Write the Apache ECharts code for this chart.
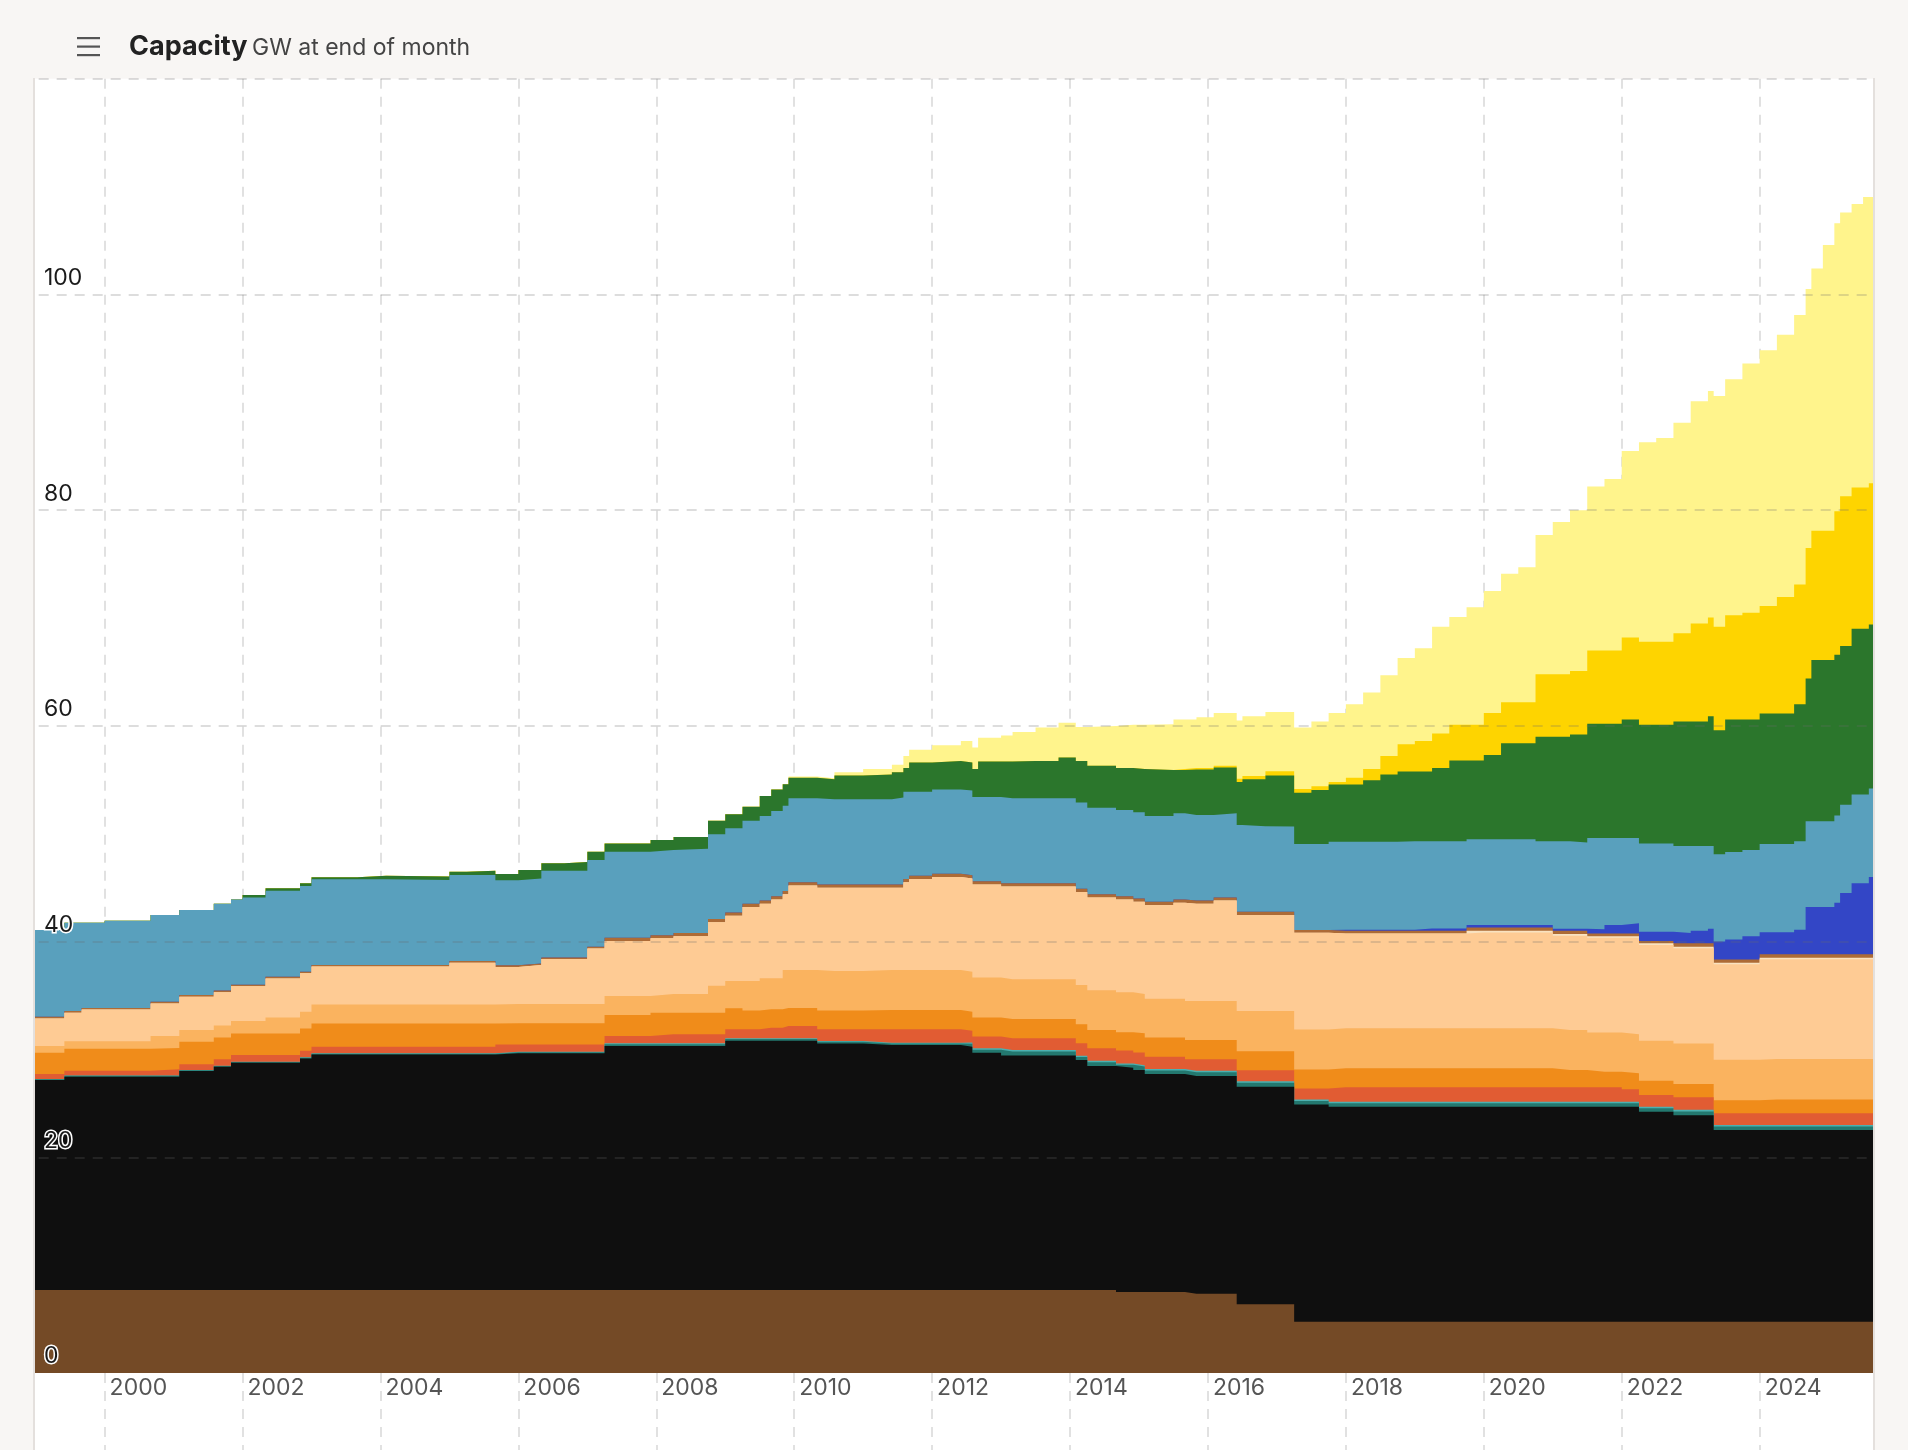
<!DOCTYPE html>
<html>
<head>
<meta charset="utf-8">
<title>Capacity</title>
<script src="https://cdn.jsdelivr.net/npm/echarts@6/dist/echarts.min.js"></script>
<style>
  html, body { margin: 0; padding: 0; background: #f8f6f4; }
  #chart { width: 1908px; height: 1450px; }
</style>
</head>
<body>
<div id="chart"></div>
<script>
// month each value starts from (step chart, GW at end of month)
const months = [
  '1998-12','1999-06','1999-09','2000-01','2000-09','2001-02','2001-08','2001-11','2002-01','2002-05',
  '2002-11','2003-01','2003-09','2004-02','2005-01','2005-04','2005-09','2006-01','2006-05','2006-09',
  '2007-01','2007-04','2007-12','2008-04','2008-10','2009-01','2009-04','2009-07','2009-09','2009-11',
  '2009-12','2010-05','2010-08','2011-01','2011-06','2011-08','2011-09','2012-01','2012-06','2012-08',
  '2012-09','2013-01','2013-03','2013-07','2013-11','2014-02','2014-04','2014-09','2014-12','2015-02',
  '2015-07','2015-09','2015-11','2016-02','2016-06','2016-07','2016-11','2017-04','2017-07','2017-10',
  '2018-01','2018-04','2018-07','2018-10','2019-01','2019-04','2019-07','2019-10','2020-01','2020-04',
  '2020-07','2020-10','2021-01','2021-04','2021-07','2021-10','2022-01','2022-04','2022-07','2022-10',
  '2023-01','2023-04','2023-05','2023-07','2023-10','2024-01','2024-04','2024-07','2024-09','2024-10',
  '2024-12','2025-02','2025-03','2025-05','2025-07','2025-08','2025-09'
];

const coalBrown = [
  7.7,7.7,7.7,7.7,7.7,7.7,7.7,7.7,7.7,7.7,
  7.7,7.7,7.7,7.7,7.7,7.7,7.7,7.7,7.7,7.7,
  7.7,7.7,7.7,7.7,7.7,7.7,7.7,7.7,7.7,7.7,
  7.7,7.7,7.7,7.7,7.7,7.7,7.7,7.7,7.7,7.7,
  7.7,7.7,7.7,7.7,7.7,7.7,7.7,7.5,7.5,7.5,
  7.5,7.35,7.35,7.35,6.37,6.37,6.37,4.76,4.76,4.76,
  4.76,4.76,4.76,4.76,4.76,4.76,4.76,4.76,4.76,4.76,
  4.76,4.76,4.76,4.76,4.76,4.76,4.76,4.76,4.76,4.76,
  4.76,4.76,4.76,4.76,4.76,4.76,4.76,4.76,4.76,4.76,
  4.76,4.76,4.76,4.76,4.76,4.76,4.76
];
const coalBlack = [
  19.47,19.78,19.78,19.78,19.78,20.3,20.7,21.07,21.07,21.07,
  21.47,21.84,21.84,21.84,21.84,21.84,21.94,21.94,21.94,21.94,
  21.94,22.62,22.62,22.62,22.62,23.11,23.11,23.11,23.11,23.11,
  23.11,22.86,22.86,22.71,22.71,22.71,22.71,22.71,22.55,21.99,
  21.99,21.75,21.75,21.75,21.75,21.32,20.76,20.8,20.59,20.22,
  20.22,20.19,20.19,20.19,20.18,20.18,20.18,20.14,20.14,19.93,
  19.93,19.93,19.93,19.93,19.93,19.93,19.93,19.93,19.93,19.93,
  19.93,19.93,19.93,19.93,19.93,19.93,19.93,19.47,19.47,19.14,
  19.14,19.14,17.77,17.77,17.77,17.77,17.77,17.77,17.77,17.77,
  17.77,17.77,17.77,17.77,17.77,17.77,17.77
];
const bioBiomass = [
  0.07,0.07,0.07,0.07,0.07,0.07,0.07,0.07,0.07,0.07,
  0.07,0.07,0.07,0.07,0.07,0.07,0.1,0.1,0.1,0.1,
  0.1,0.17,0.17,0.17,0.17,0.15,0.15,0.15,0.15,0.15,
  0.15,0.15,0.15,0.15,0.15,0.15,0.15,0.15,0.28,0.29,
  0.29,0.35,0.35,0.35,0.35,0.28,0.35,0.28,0.32,0.32,
  0.32,0.34,0.34,0.34,0.36,0.36,0.36,0.33,0.33,0.32,
  0.32,0.32,0.32,0.32,0.32,0.32,0.32,0.32,0.32,0.32,
  0.32,0.32,0.32,0.32,0.32,0.32,0.32,0.32,0.32,0.35,
  0.35,0.35,0.32,0.32,0.32,0.32,0.32,0.32,0.32,0.32,
  0.32,0.32,0.32,0.32,0.32,0.32,0.32
];
const bioBiogas = [
  0.03,0.03,0.03,0.03,0.03,0.03,0.03,0.03,0.03,0.03,
  0.03,0.03,0.03,0.03,0.03,0.03,0.05,0.05,0.05,0.05,
  0.05,0.08,0.08,0.08,0.08,0.07,0.07,0.07,0.07,0.07,
  0.07,0.07,0.07,0.07,0.07,0.07,0.07,0.07,0.12,0.12,
  0.12,0.15,0.15,0.15,0.15,0.12,0.15,0.12,0.13,0.14,
  0.14,0.15,0.15,0.15,0.15,0.15,0.15,0.14,0.14,0.14,
  0.14,0.14,0.14,0.14,0.14,0.14,0.14,0.14,0.14,0.14,
  0.14,0.14,0.14,0.14,0.14,0.14,0.14,0.14,0.14,0.15,
  0.15,0.15,0.14,0.14,0.14,0.14,0.14,0.14,0.14,0.14,
  0.14,0.14,0.14,0.14,0.14,0.14,0.14
];
const distillate = [
  0.45,0.45,0.45,0.45,0.58,0.52,0.58,0.61,0.61,0.61,
  0.61,0.61,0.61,0.61,0.61,0.61,0.68,0.68,0.68,0.68,
  0.68,0.68,0.83,0.83,0.83,0.84,0.84,0.99,0.99,1.14,
  1.14,1.09,1.09,1.24,1.24,1.24,1.24,1.24,1.09,1.09,
  1.09,1.08,1.08,1.08,1.08,1.15,1.14,1.2,1.17,1.15,
  1.15,1.07,1.07,1.07,1.02,1.02,1.02,1.02,1.02,1.35,
  1.35,1.35,1.35,1.35,1.35,1.35,1.35,1.35,1.35,1.35,
  1.35,1.35,1.35,1.35,1.35,1.35,1.15,1.08,1.08,1.16,
  1.16,1.16,1.09,1.09,1.09,1.09,1.09,1.09,1.09,1.09,
  1.09,1.09,1.09,1.09,1.09,1.09,1.09
];
const gasSteam = [
  1.98,2.04,2.04,2.04,1.97,2.1,2.03,2.01,2.01,2.01,
  2.07,2.16,2.16,2.16,2.16,2.16,1.95,1.95,1.95,1.95,
  1.95,1.94,2.01,2.01,2.01,1.94,1.73,1.7,1.7,1.67,
  1.67,1.73,1.73,1.79,1.79,1.79,1.79,1.79,1.76,1.78,
  1.78,1.79,1.79,1.79,1.79,1.76,1.7,1.7,1.79,1.77,
  1.77,1.77,1.77,1.77,1.76,1.76,1.76,1.76,1.76,1.75,
  1.75,1.75,1.75,1.75,1.75,1.75,1.75,1.75,1.75,1.75,
  1.75,1.75,1.6,1.6,1.44,1.44,1.5,1.33,1.33,1.24,
  1.24,1.24,1.22,1.22,1.22,1.28,1.28,1.28,1.28,1.28,
  1.28,1.28,1.28,1.28,1.28,1.28,1.28
];
const gasCCGT = [
  0.62,0.68,0.68,0.68,1.11,1.08,1.12,1.15,1.15,1.48,
  1.55,1.76,1.76,1.76,1.76,1.76,1.79,1.79,1.79,1.79,
  1.79,1.76,1.72,1.72,2.49,2.54,2.75,2.88,2.88,3.53,
  3.53,3.68,3.68,3.71,3.71,3.71,3.71,3.71,3.7,3.71,
  3.71,3.68,3.68,3.68,3.68,3.65,3.7,3.7,3.64,3.6,
  3.6,3.63,3.63,3.63,3.72,3.72,3.72,3.71,3.71,3.71,
  3.71,3.71,3.71,3.71,3.71,3.71,3.71,3.71,3.71,3.71,
  3.71,3.71,3.7,3.7,3.64,3.64,3.62,3.7,3.7,3.76,
  3.76,3.76,3.75,3.75,3.75,3.75,3.75,3.75,3.75,3.75,
  3.75,3.75,3.75,3.75,3.75,3.75,3.75
];
const gasOCGT = [
  2.56,2.66,2.95,2.95,3.03,3.09,3.08,3.22,3.22,3.62,
  3.56,3.51,3.51,3.51,3.88,3.88,3.44,3.62,4.17,4.17,
  5.16,5.1,5.17,5.37,5.9,6.05,6.85,6.9,7.3,7.03,
  7.83,7.72,7.72,7.63,7.63,8.13,8.43,8.63,8.65,8.62,
  8.62,8.6,8.6,8.6,8.6,8.62,8.6,8.6,8.56,8.7,
  8.9,9.0,9.0,9.3,8.9,8.9,8.9,8.97,8.97,8.8,
  8.8,8.8,8.8,8.8,8.8,8.8,8.8,8.89,8.89,8.89,
  8.89,8.89,8.75,8.75,8.77,8.77,8.93,8.89,8.89,8.82,
  8.82,8.82,8.85,8.85,8.85,9.25,9.25,9.25,9.25,9.25,
  9.25,9.25,9.25,9.25,9.25,9.25,9.25
];
const gasRecip = [
  0,0,0,0,0,0,0,0,0,0,
  0,0,0,0,0,0,0,0,0,0,
  0,0,0,0,0,0,0,0,0,0,
  0,0,0,0,0,0,0,0,0,0,
  0,0,0,0,0,0,0,0,0,0,
  0,0,0,0,0,0,0,0,0,0,
  0,0,0,0,0,0,0,0.15,0.15,0.15,
  0.15,0.15,0.15,0.15,0.15,0.15,0.15,0.15,0.15,0.15,
  0.15,0.15,0.15,0.15,0.15,0.15,0.15,0.15,0.15,0.15,
  0.15,0.15,0.15,0.15,0.15,0.15,0.15
];
const gasWCMG = [
  0.15,0.15,0.15,0.15,0.15,0.15,0.15,0.15,0.15,0.15,
  0.15,0.15,0.15,0.15,0.15,0.15,0.15,0.15,0.15,0.15,
  0.15,0.3,0.3,0.3,0.3,0.3,0.3,0.3,0.3,0.3,
  0.3,0.3,0.3,0.3,0.3,0.3,0.3,0.3,0.3,0.3,
  0.3,0.3,0.3,0.3,0.3,0.3,0.3,0.3,0.3,0.3,
  0.3,0.3,0.3,0.3,0.3,0.3,0.3,0.25,0.25,0.25,
  0.25,0.25,0.25,0.25,0.25,0.25,0.25,0.3,0.3,0.3,
  0.3,0.3,0.3,0.3,0.26,0.26,0.26,0.22,0.22,0.31,
  0.31,0.31,0.3,0.3,0.3,0.31,0.31,0.31,0.31,0.31,
  0.31,0.31,0.31,0.31,0.31,0.31,0.31
];
const battery = [
  0,0,0,0,0,0,0,0,0,0,
  0,0,0,0,0,0,0,0,0,0,
  0,0,0,0,0,0,0,0,0,0,
  0,0,0,0,0,0,0,0,0,0,
  0,0,0,0,0,0,0,0,0,0,
  0,0,0,0,0,0,0,0,0,0.1,
  0.1,0.1,0.1,0.1,0.2,0.2,0.2,0.25,0.25,0.25,
  0.25,0.25,0.2,0.2,0.39,0.79,0.94,0.86,0.86,0.96,
  1.16,1.36,1.65,1.85,2.15,2.04,2.04,2.29,4.38,4.38,
  4.38,4.78,5.68,6.58,6.58,7.18,7.18
];
const hydro = [
  8.05,8.19,7.9,8.09,8.05,7.89,8.04,7.89,8.09,7.98,
  7.94,7.94,7.94,7.88,7.97,7.97,7.9,7.88,8.05,8.05,
  8.04,7.99,7.9,7.8,7.85,7.8,7.7,7.85,7.9,7.9,
  7.8,7.9,7.9,7.9,8.05,8.1,7.8,7.8,7.85,7.8,
  7.8,7.9,7.9,7.9,7.9,8.0,8.0,8.0,8.0,7.95,
  8.0,7.95,7.95,7.8,8.06,7.94,7.91,7.98,7.98,8.15,
  8.15,8.15,8.15,8.19,8.09,8.09,8.09,7.95,7.95,7.95,
  7.95,7.75,8.1,8.0,8.45,8.05,7.9,8.18,8.18,8.06,
  7.86,7.66,8.1,8.1,8.0,8.2,8.2,8.19,7.95,7.95,
  7.95,8.1,8.2,8.25,8.25,8.2,8.2
];
const wind = [
  0,0,0,0,0,0,0,0,0.22,0.23,
  0.25,0.19,0.33,0.32,0.31,0.41,0.56,0.77,0.68,0.8,
  0.78,0.76,0.92,1.1,1.25,1.3,1.3,1.85,2.0,2.0,
  1.9,1.85,2.2,2.3,2.35,2.2,2.7,2.65,2.6,2.6,
  3.3,3.4,3.45,3.45,3.76,3.85,3.9,3.9,4.0,4.25,
  4.0,4.2,4.2,4.25,3.98,4.36,4.73,4.74,4.99,5.31,
  5.31,5.71,6.24,6.48,6.48,6.8,7.5,7.3,7.8,8.9,
  8.9,9.7,9.7,10.0,10.6,10.6,11.0,11.0,11.0,11.54,
  11.54,12.04,11.5,12.3,12.1,12.1,12.1,12.7,13.25,14.95,
  14.95,14.9,14.7,15.35,15.35,15.2,15.2
];
const solarUtility = [
  0,0,0,0,0,0,0,0,0,0,
  0,0,0,0,0,0,0,0,0,0,
  0,0,0,0,0,0,0,0,0,0,
  0,0,0,0,0,0,0,0,0,0,
  0,0,0,0,0,0,0,0,0,0,
  0.1,0.15,0.15,0.15,0.3,0.3,0.4,0.35,0.35,0.23,
  0.63,1.03,1.7,2.52,2.82,3.2,3.3,3.3,3.9,3.8,
  3.8,5.8,5.8,5.9,6.8,6.8,7.6,7.7,7.7,8.2,
  9.1,9.15,9.6,9.65,9.9,9.96,10.8,11.1,12.1,12.0,
  12.0,13.3,13.9,13.1,13.1,13.1,13.1
];
const solarRooftop = [
  0,0,0,0,0,0,0,0,0,0,
  0,0,0,0,0,0,0,0,0,0,
  0,0,0,0,0,0,0,0,0,0,
  0.1,0.1,0.3,0.5,0.7,1.1,1.2,1.45,2.0,2.0,
  2.2,2.4,2.69,3.1,3.24,3.15,3.7,4.0,4.1,4.25,
  4.6,4.5,4.7,4.9,5.4,5.54,5.5,5.7,6.0,6.4,
  6.8,7.1,7.5,8.0,8.6,9.9,10.0,10.9,11.3,11.9,
  12.5,12.9,14.1,14.9,15.2,15.9,17.3,18.5,18.9,19.5,
  20.6,21.0,21.4,21.9,23.1,23.7,24.3,25.0,24.0,24.3,
  26.5,26.7,26.3,26.3,26.95,26.55,26.55
];

const yTicks = [0, 20, 40, 60, 80, 100];

// bottom to top
const fuels = [
  { name: 'Coal (Brown)', color: '#744a26', values: coalBrown },
  { name: 'Coal (Black)', color: '#0f0f0f', values: coalBlack },
  { name: 'Bioenergy (Biomass)', color: '#23786f', values: bioBiomass },
  { name: 'Bioenergy (Biogas)', color: '#4cb0b0', values: bioBiogas },
  { name: 'Distillate', color: '#e15c33', values: distillate },
  { name: 'Gas (Steam)', color: '#f08c1a', values: gasSteam },
  { name: 'Gas (CCGT)', color: '#fab35f', values: gasCCGT },
  { name: 'Gas (OCGT)', color: '#fecb94', values: gasOCGT },
  { name: 'Gas (Reciprocating)', color: '#f9e2c0', values: gasRecip },
  { name: 'Gas (Waste Coal Mine)', color: '#ad6b36', values: gasWCMG },
  { name: 'Battery', color: '#3346c6', values: battery },
  { name: 'Hydro', color: '#59a0bd', values: hydro },
  { name: 'Wind', color: '#2b762c', values: wind },
  { name: 'Solar (Utility)', color: '#fed400', values: solarUtility },
  { name: 'Solar (Rooftop)', color: '#fff48c', values: solarRooftop }
];

function toYear(m) {
  const p = m.split('-');
  return Number(p[0]) + (Number(p[1]) - 1) / 12;
}
const xs = months.map(toYear);

// running totals: each band is drawn as the area from 0 up to its stacked top,
// top band first so the lower bands paint over it
const running = xs.map(() => 0);
const stacked = fuels.map(f => {
  const tops = f.values.map((v, i) => (running[i] += v));
  return Object.assign({}, f, { tops: tops.map(t => Math.round(t * 100) / 100) });
});

const BG = '#f8f6f4';
const FONT = 'Inter, "Noto Sans", sans-serif';
const dash = [10, 8];

const chart = echarts.init(document.getElementById('chart'));
chart.setOption({
  animation: false,
  backgroundColor: BG,
  grid: [
    { left: -33.32, right: 10.44, top: 78.8, bottom: 77, show: true, backgroundColor: '#fff', borderWidth: 0, outerBoundsMode: 'none', containLabel: false },
    { left: -33.32, right: 10.44, top: 1373, bottom: 0, show: true, backgroundColor: '#fff', borderWidth: 0, outerBoundsMode: 'none', containLabel: false }
  ],
  xAxis: [
    {
      type: 'value', gridIndex: 0, min: 1998, max: 2026, interval: 2,
      axisLine: { show: false }, axisTick: { show: false },
      axisLabel: {
        fontFamily: FONT, fontSize: 23, color: '#555', margin: 4,
        align: 'left', padding: [0, 0, 0, 5],
        formatter: v => (v <= 1998 || v >= 2026) ? '' : String(v)
      },
      splitLine: { show: true, lineStyle: { type: dash, color: '#d8d8d8', width: 1.5 } }
    },
    {
      type: 'value', gridIndex: 1, min: 1998, max: 2026, interval: 2,
      axisLine: { show: false }, axisTick: { show: false }, axisLabel: { show: false },
      splitLine: { show: true, lineStyle: { type: dash, color: '#d8d8d8', width: 1.5 } }
    }
  ],
  yAxis: [
    {
      type: 'value', gridIndex: 0, min: 0, max: 120, interval: 20, z: 5,
      axisLine: { show: false }, axisTick: { show: false },
      axisLabel: {
        inside: true, margin: 77.3, align: 'left', verticalAlign: 'bottom',
        padding: [0, 0, 5, 0], fontFamily: FONT, fontSize: 23, color: '#1a1a1a',
        textBorderColor: '#fff', textBorderWidth: 3,
        formatter: v => yTicks.indexOf(v) >= 0 ? String(v) : ''
      },
      splitLine: { show: true, showMinLine: false, lineStyle: { type: dash, color: 'rgba(110,110,110,0.3)', width: 1.5 } }
    },
    { type: 'value', gridIndex: 1, min: 0, max: 1, show: false }
  ],
  series: stacked.slice().reverse().map(f => ({
    name: f.name,
    type: 'line',
    xAxisIndex: 0, yAxisIndex: 0,
    step: 'end',
    symbol: 'none',
    silent: true,
    color: f.color,
    lineStyle: { width: 0 },
    areaStyle: { color: f.color, opacity: 1, origin: 'start' },
    data: xs.map((x, i) => [x, f.tops[i]])
  })),
  graphic: [
    { type: 'rect', z: 100, shape: { x: 0, y: 0, width: 34, height: 1450 }, style: { fill: BG } },
    { type: 'rect', z: 100, shape: { x: 1874, y: 0, width: 34, height: 1450 }, style: { fill: BG } },
    { type: 'line', z: 101, shape: { x1: 34, y1: 78, x2: 34, y2: 1450 }, style: { stroke: '#e4e0dd', lineWidth: 2 } },
    { type: 'line', z: 101, shape: { x1: 1874, y1: 78, x2: 1874, y2: 1450 }, style: { stroke: '#e4e0dd', lineWidth: 2 } },
    { type: 'rect', z: 101, shape: { x: 77, y: 37, width: 23, height: 2.2 }, style: { fill: '#555' } },
    { type: 'rect', z: 101, shape: { x: 77, y: 45.5, width: 23, height: 2.2 }, style: { fill: '#555' } },
    { type: 'rect', z: 101, shape: { x: 77, y: 54, width: 23, height: 2.2 }, style: { fill: '#555' } },
    { type: 'text', z: 101, style: { text: 'Capacity', x: 129, y: 47, fontFamily: FONT, fontSize: 27, fontWeight: 'bold', fill: '#222', verticalAlign: 'middle' } },
    { type: 'text', z: 101, style: { text: 'GW at end of month', x: 252, y: 48, fontFamily: FONT, fontSize: 23, fill: '#444', verticalAlign: 'middle' } }
  ]
});
</script>
</body>
</html>
